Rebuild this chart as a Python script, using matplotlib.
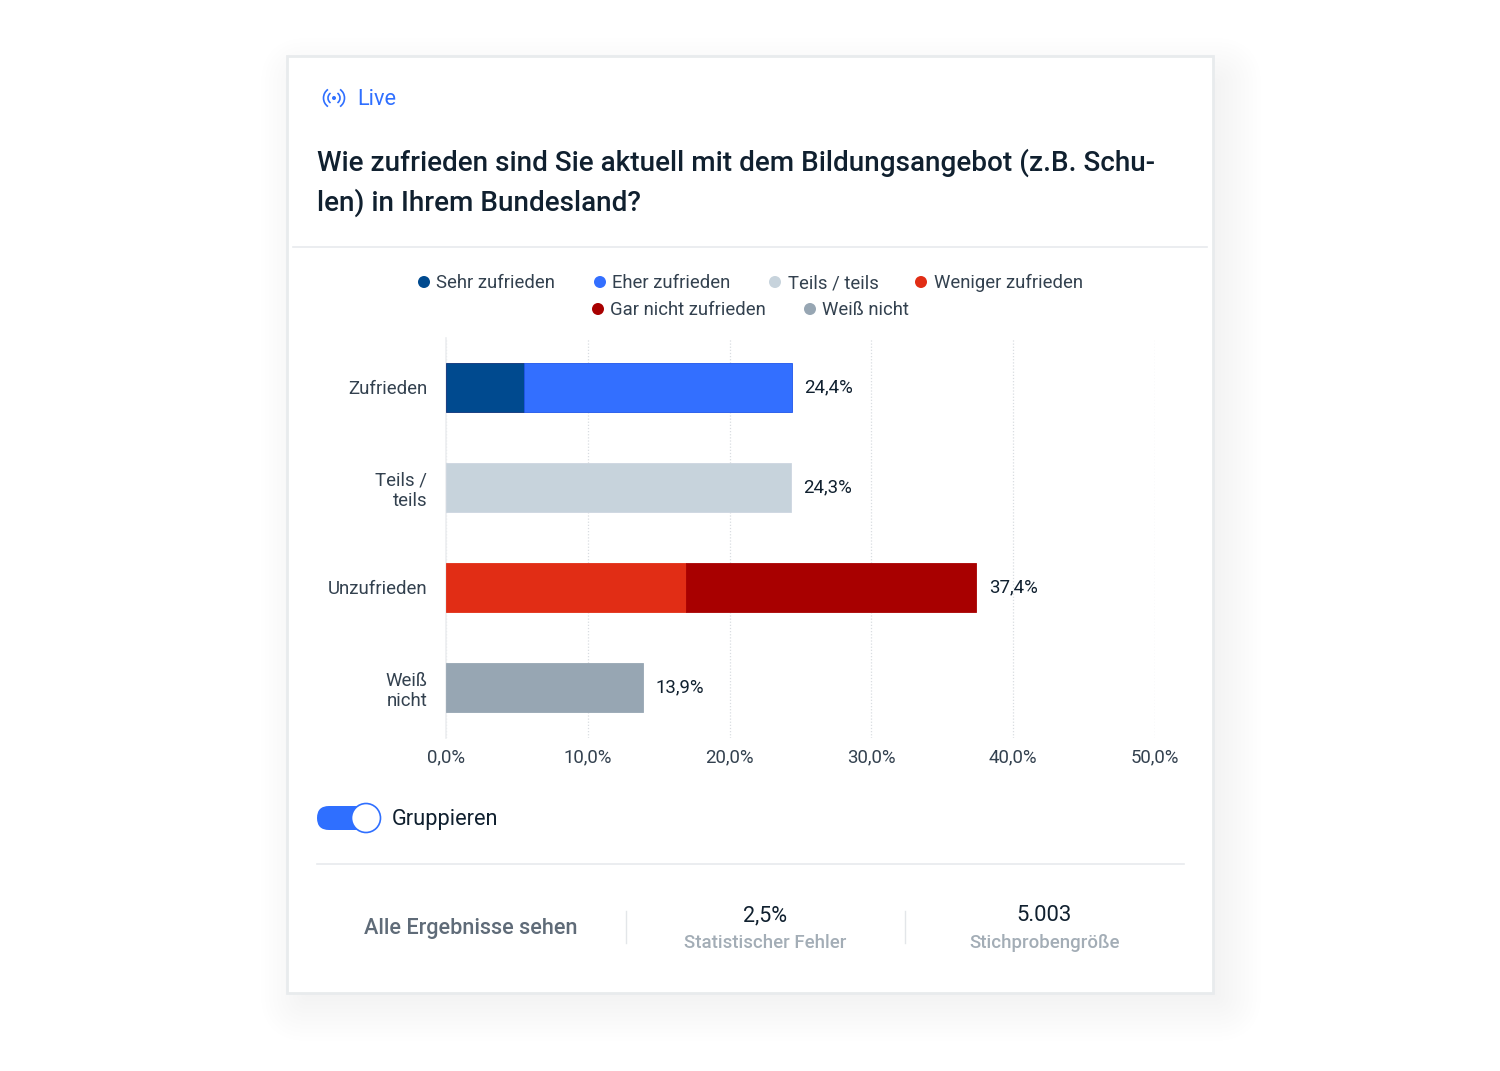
import matplotlib
matplotlib.use('Agg')
import matplotlib.pyplot as plt
from matplotlib.patches import Arc, Circle, FancyBboxPatch, Rectangle

plt.rcParams['font.family'] = ['Roboto', 'DejaVu Sans']

W, H = 1500, 1071

categories = ['Zufrieden', 'Teils /\nteils', 'Unzufrieden', 'Weiß\nnicht']
sehr = [5.5, 0, 0, 0]
eher = [18.9, 0, 0, 0]
teils = [0, 24.3, 0, 0]
weniger = [0, 0, 16.9, 0]
gar_nicht = [0, 0, 20.5, 0]
weiss_nicht = [0, 0, 0, 13.9]
totals = ['24,4%', '24,3%', '37,4%', '13,9%']
total_values = [24.4, 24.3, 37.4, 13.9]
xticks = [0, 10, 20, 30, 40, 50]
xticklabels = ['0,0%', '10,0%', '20,0%', '30,0%', '40,0%', '50,0%']

series = [sehr, eher, teils, weniger, gar_nicht, weiss_nicht]
colors = ['#004a8f', '#336fff', '#c7d3dc', '#e12d15', '#a80000', '#97a6b3']
edges = ['#0b2f78', '#1f55ea', '#cdd6e0', '#e12d15', '#a80000', '#97a6b3']

legend_row1 = [('Sehr zufrieden', 424, '#004a8f'), ('Eher zufrieden', 600, '#336fff'),
               ('Teils / teils', 775, '#c7d3dc'), ('Weniger zufrieden', 921, '#e12d15')]
legend_row2 = [('Gar nicht zufrieden', 598, '#a80000'), ('Weiß nicht', 810, '#97a6b3')]

DARK = '#10202f'
BLUE = '#2f6fff'

fig = plt.figure(figsize=(W / 100, H / 100), dpi=100, facecolor='white')

# page layer, in pixels with y going down
bg = fig.add_axes([0, 0, 1, 1], zorder=0)
bg.set_xlim(0, W)
bg.set_ylim(H, 0)
bg.axis('off')

# soft shadow under the card
for grow in range(48, 0, -4):
    bg.add_patch(FancyBboxPatch((287 + 22 - grow, 56 + 30 - grow), 926 + 2 * grow - 22, 937 + 2 * grow - 30,
                                boxstyle='round,pad=0,rounding_size=%d' % grow,
                                fc='#8fa3a8', ec='none', alpha=0.008))
bg.add_patch(Rectangle((287, 56), 926, 937, fc='white', ec='#e8ebed', lw=2))

# live badge
icon = (334, 98)
bg.add_patch(Circle(icon, 2, fc=BLUE, ec='none'))
for d in [12, 21]:
    for a, b in [(125, 235), (-55, 55)]:
        bg.add_patch(Arc(icon, d, d, theta1=a, theta2=b, ec=BLUE, lw=1.2))
bg.text(357.5, 99.5, 'Live', color=BLUE, fontsize=15.7, va='center', ha='left')

# question
bg.text(317, 163, 'Wie zufrieden sind Sie aktuell mit dem Bildungsangebot (z.B. Schu-',
        color=DARK, fontsize=20.1, fontweight=500, va='center', ha='left')
bg.text(317, 203, 'len) in Ihrem Bundesland?',
        color=DARK, fontsize=20.1, fontweight=500, va='center', ha='left')
bg.plot([293, 1207], [246.5, 246.5], color='#e8eaed', lw=1.2)

# legend
for row, y in [(legend_row1, 282), (legend_row2, 309)]:
    for label, x, c in row:
        bg.add_patch(Circle((x, y), 6, fc=c, ec='none'))
        bg.text(x + 12.5, y + 6, label, color='#33414f', fontsize=13.35, va='baseline', ha='left')

# toggle
bg.add_patch(FancyBboxPatch((317, 806), 50, 24, boxstyle='round,pad=0,rounding_size=12', fc=BLUE, ec='none'))
bg.add_patch(Circle((366, 818), 14.5, fc='white', ec=BLUE, lw=1.2))
bg.text(391.5, 820, 'Gruppieren', color=DARK, fontsize=15.7, va='center', ha='left')

# footer
bg.plot([317, 1184], [864, 864], color='#e8eaed', lw=1.2)
bg.plot([625.5, 625.5], [911, 943], color='#e3e6e9', lw=1)
bg.plot([905, 905], [911, 943], color='#e3e6e9', lw=1)
bg.text(470.5, 928.5, 'Alle Ergebnisse sehen', color='#5f6b78', fontsize=15.6, fontweight=500, va='center', ha='center')
bg.text(765, 915.5, '2,5%', color=DARK, fontsize=15.5, va='center', ha='center')
bg.text(765, 943, 'Statistischer Fehler', color='#a3adb6', fontsize=13.45, fontweight=500, va='center', ha='center')
bg.text(1044.5, 915.5, '5.003', color=DARK, fontsize=15.9, va='center', ha='center')
bg.text(1044.5, 943, 'Stichprobengröße', color='#a3adb6', fontsize=13.4, fontweight=500, va='center', ha='center')

# chart
ax = fig.add_axes([446 / W, 1 - 737.5 / H, 709 / W, 400 / H], zorder=1)
ax.patch.set_alpha(0)
left = [0] * len(categories)
for values, c, e in zip(series, colors, edges):
    # empty segments are skipped, their edge would show as a thin line
    idx = [i for i, v in enumerate(values) if v > 0]
    ax.barh(idx, [values[i] for i in idx], left=[left[i] for i in idx], height=0.49,
            color=c, edgecolor=e, lw=0.6, zorder=3)
    left = [a + b for a, b in zip(left, values)]

for i, (v, s) in enumerate(zip(total_values, totals)):
    ax.annotate(s, (v, i), xytext=(9, 0), textcoords='offset points', va='center', ha='left',
                color=DARK, fontsize=13.4)

ax.set_xlim(0, 50)
ax.set_ylim(3.5, -0.5)
ax.set_xticks(xticks)
ax.set_xticklabels(xticklabels, color='#33414f', fontsize=13.4)
ax.set_yticks(range(len(categories)))
ax.set_yticklabels(categories, color='#33414f', fontsize=13.4, ha='right', linespacing=1.18)
ax.tick_params(axis='both', length=0)
ax.tick_params(axis='x', pad=7.5)
ax.tick_params(axis='y', pad=13.5)
ax.grid(axis='x', color='#d9dde1', lw=0.9, ls=(0, (1, 1.5)), zorder=0)
for side in ['top', 'right', 'bottom']:
    ax.spines[side].set_visible(False)
ax.spines['left'].set_color('#eceef0')
ax.spines['left'].set_linewidth(1.2)

fig.savefig('out.png', dpi=100)
